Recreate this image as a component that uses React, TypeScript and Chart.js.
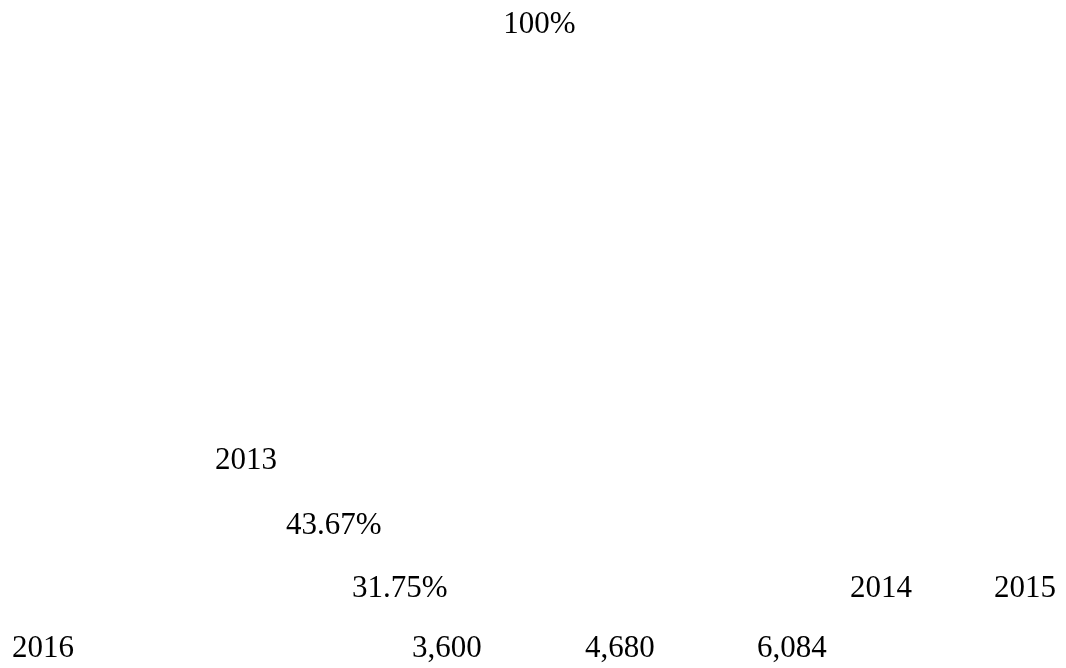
import React, { useEffect, useRef } from "react";
import { Chart, registerables } from "chart.js";

Chart.register(...registerables);

// ---- data ----
const years = ["2013", "2014", "2015", "2016"];
const values = [3600, 4680, 6084];
const growthRates = [43.67, 31.75];
const totalShare = "100%";

// ---- styles / layout (not data) ----
const FONT = "'Liberation Serif', 'Times New Roman', Times, serif";
const FONT_SIZE = 31;
const yearPos = [
  [215, 469],
  [850, 597],
  [994, 597],
  [12, 657],
];
const growthPos = [
  [286, 534],
  [352, 597],
];
const valuePos = [
  [412, 657],
  [585, 657],
  [757, 657],
];

const textPlugin = {
  id: "looseText",
  afterDraw(chart: any) {
    const ctx = chart.ctx;
    ctx.save();
    ctx.font = `normal ${FONT_SIZE}px ${FONT}`;
    ctx.fillStyle = "#000";
    ctx.textAlign = "left";
    ctx.textBaseline = "alphabetic";
    years.forEach((y, i) => {
      const p = yearPos[i];
      if (p) ctx.fillText(y, p[0], p[1]);
    });
    growthRates.forEach((g, i) => {
      const p = growthPos[i];
      if (p) ctx.fillText(`${g.toFixed(2)}%`, p[0], p[1]);
    });
    values.forEach((v, i) => {
      const p = valuePos[i];
      if (p) ctx.fillText(v.toLocaleString("en-US"), p[0], p[1]);
    });
    ctx.restore();
  },
};

export default function App() {
  const ref = useRef<HTMLCanvasElement>(null);
  useEffect(() => {
    if (!ref.current) return;
    const chart = new Chart(ref.current, {
      type: "bar",
      data: {
        labels: years.slice(0, values.length),
        datasets: [
          {
            data: values,
            backgroundColor: "rgba(0,0,0,0)",
            borderWidth: 0,
          },
        ],
      },
      options: {
        animation: false,
        responsive: true,
        maintainAspectRatio: false,
        layout: { padding: { left: 13, right: 0, top: 6, bottom: 0 } },
        scales: {
          x: { display: false },
          y: { display: false, beginAtZero: true },
        },
        plugins: {
          legend: { display: false },
          tooltip: { enabled: false },
          title: {
            display: true,
            text: totalShare,
            color: "#000",
            font: { family: FONT, size: FONT_SIZE, weight: "normal" },
            padding: { top: 0, bottom: 0 },
          },
        },
      },
      plugins: [textPlugin],
    });
    return () => chart.destroy();
  }, []);
  return (
    <div
      style={{
        position: "fixed",
        left: 0,
        top: 0,
        width: "1066px",
        height: "668px",
        background: "#fff",
      }}
    >
      <canvas ref={ref} />
    </div>
  );
}
